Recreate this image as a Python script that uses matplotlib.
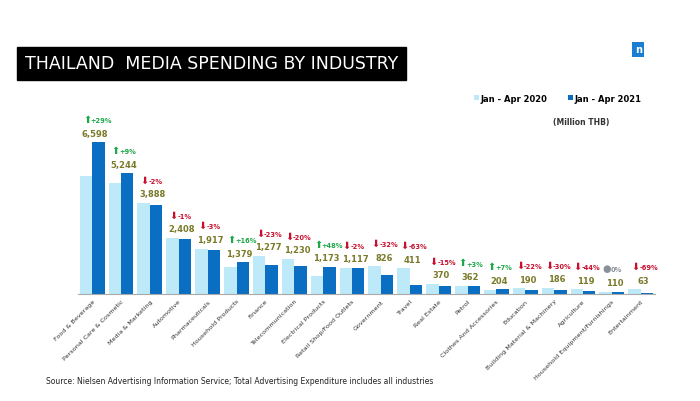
import matplotlib.pyplot as plt
import numpy as np

categories = ['Food & Beverage', 'Personal Care & Cosmetic', 'Media & Marketing', 'Automotive',
              'Pharmaceuticals', 'Household Products', 'Finance', 'Telecommunication',
              'Electrical Products', 'Retail Shop/Food Outlets', 'Government', 'Travel',
              'Real Estate', 'Petrol', 'Clothes And Accessories', 'Education',
              'Building Material & Machinery', 'Agriculture', 'Household Equipment/Furnishings',
              'Entertainment']
values_2021 = [6598, 5244, 3888, 2408, 1917, 1379, 1277, 1230, 1173, 1117,
               826, 411, 370, 362, 204, 190, 186, 119, 110, 63]
values_2020 = [5115, 4811, 3967, 2432, 1976, 1189, 1658, 1538, 793, 1140,
               1215, 1111, 435, 351, 191, 244, 266, 213, 110, 203]
changes = ['+29%', '+9%', '-2%', '-1%', '-3%', '+16%', '-23%', '-20%', '+48%', '-2%',
           '-32%', '-63%', '-15%', '+3%', '+7%', '-22%', '-30%', '-44%', '0%', '-69%']

light = '#bde9f8'
dark = '#0a6fc2'
green = '#1fa84a'
red = '#c8102e'
olive = '#7a7a2a'

fig = plt.figure(figsize=(7, 4.02), dpi=100)
ax = fig.add_axes([0.111, 0.266, 0.825, 0.458])
x = np.arange(len(categories))
w = 0.43
ax.bar(x - w / 2, values_2020, w, color=light, label='Jan - Apr 2020')
ax.bar(x + w / 2, values_2021, w, color=dark, label='Jan - Apr 2021')
ax.set_xlim(-0.5, len(categories) - 0.5)
ax.set_ylim(0, 8000)
for s in ['top', 'right', 'left']:
    ax.spines[s].set_visible(False)
ax.spines['bottom'].set_color('#aaaaaa')
ax.set_yticks([])
ax.set_xticks(x)
ax.set_xticklabels(categories, rotation=45, ha='right', rotation_mode='anchor', fontsize=4.6, color='#333333')
ax.tick_params(axis='x', length=0, pad=3)

for i, (v1, v2, c) in enumerate(zip(values_2020, values_2021, changes)):
    top = max(v1, v2)
    ax.text(i + 0.1, top + 200, f'{v2:,}', ha='center', va='bottom', fontsize=6,
            fontweight='bold', color=olive)
    if c.startswith('+'):
        sym, col = '\u2b06', green
    elif c.startswith('-'):
        sym, col = '\u2b07', red
    else:
        sym, col = '\u25cf', '#8a9099'
    ax.text(i - 0.18, top + 800, sym, ha='center', va='bottom', fontsize=7, color=col)
    ax.text(i - 0.05, top + 830, c, ha='left', va='bottom', fontsize=4.8, fontweight='bold', color=col)

ax.legend(loc='upper right', bbox_to_anchor=(0.99, 1.13), ncol=2, frameon=False,
          handlelength=0.6, handleheight=0.6, handletextpad=0.2, columnspacing=2.5,
          prop={'weight': 'bold', 'size': 6})
fig.text(0.79, 0.69, '(Million THB)', fontsize=5.5, fontweight='bold', color='#333333')

fig.text(0.035, 0.84, 'THAILAND  MEDIA SPENDING BY INDUSTRY', fontsize=12.5, color='white',
         family='Liberation Sans Narrow', va='center',
         bbox=dict(boxstyle='square,pad=0.45', fc='black', ec='black'))
fig.text(0.912, 0.875, 'n', fontsize=7, fontweight='bold', color='white', ha='center', va='center',
         bbox=dict(boxstyle='square,pad=0.25', fc='#1a7fd4', ec='none'))
fig.text(0.065, 0.045, 'Source: Nielsen Advertising Information Service; Total Advertising Expenditure includes all industries',
         fontsize=5.5, color='#222222')

fig.savefig('out.png', dpi=100)
